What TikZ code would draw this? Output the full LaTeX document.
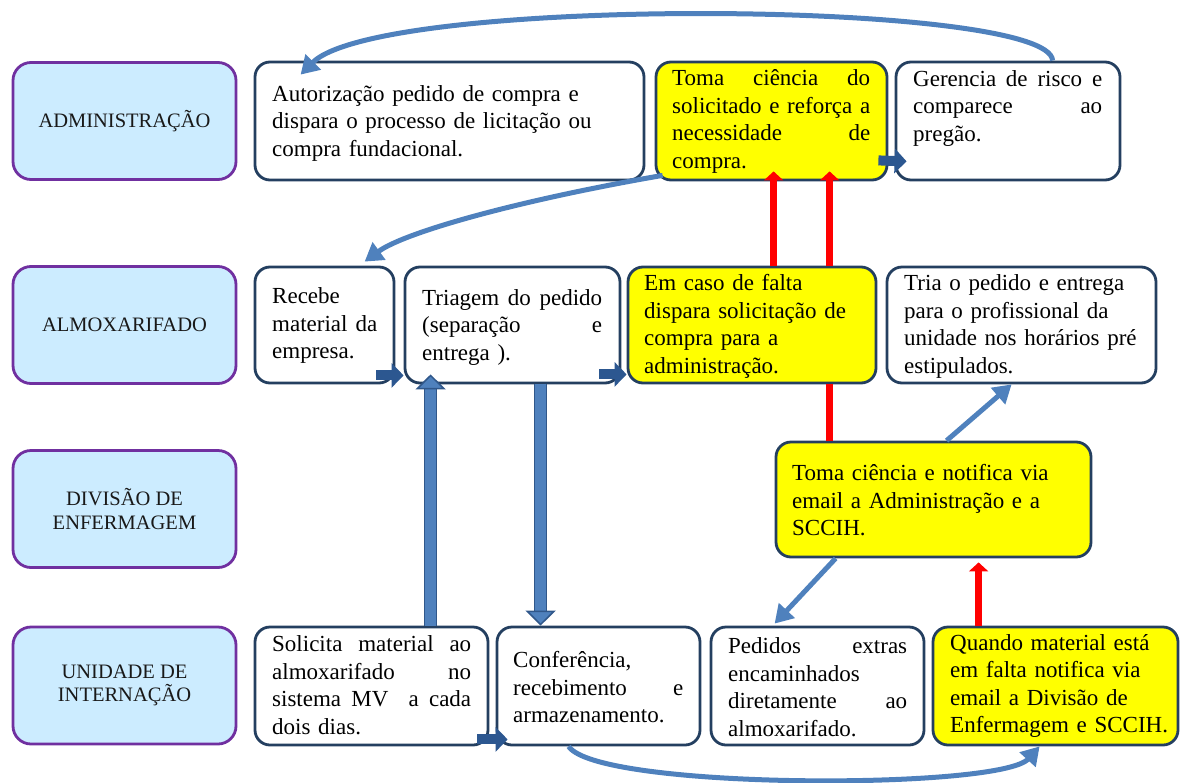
\documentclass[tikz,border=0pt]{standalone}
\usepackage{fontspec}
\setmainfont{Liberation Serif}
\usetikzlibrary{arrows.meta,calc}
\definecolor{lanefill}{HTML}{CCECFF}
\definecolor{lanedraw}{HTML}{7030A0}
\definecolor{boxdraw}{HTML}{243F60}
\definecolor{boxyellow}{HTML}{FFFF00}
\definecolor{arrblue}{HTML}{4F81BD}
\definecolor{blockblue}{HTML}{2C5790}
\definecolor{vertblue}{HTML}{4F81BD}
\definecolor{vertedge}{HTML}{30578A}
\definecolor{redc}{HTML}{FF0000}
\newcommand\jl[2]{\leavevmode\hbox to #1{#2}}
\newcommand\myBody{\fontsize{23}{27.5}\selectfont}
\newcommand\myLane{\fontsize{20.5}{23.5}\selectfont}
\begin{document}
\begin{tikzpicture}[x=1pt,y=-1pt,
  lane/.style={draw=lanedraw, fill=lanefill, line width=2.8pt, rounded corners=18pt,
    align=center, font=\myLane, text=black!90, minimum width=223pt, minimum height=117pt},
  tbox/.style={draw=boxdraw, fill=white, line width=2.8pt, rounded corners=15pt, inner sep=0pt},
  ybox/.style={tbox, fill=boxyellow},
  txt/.style={inner sep=0pt, align=left, font=\myBody, anchor=west},
  curvearr/.style={draw=arrblue, line width=5pt, -{Triangle[length=18pt,width=21pt]}},
  blockarr/.style={draw=blockblue, line width=10pt, -{Triangle[length=12pt,width=24pt]}},
  vertarr/.style={draw=vertblue, line width=11pt,
    -{Triangle[length=15pt,width=30pt,fill=vertblue,color=vertedge,line width=1.5pt]}},
  vertout/.style={draw=vertedge, line width=13.5pt},
  redarr/.style={draw=redc, line width=7pt, -{Triangle[length=9pt,width=19pt]}},
  redline/.style={draw=redc, line width=7pt}
]
\useasboundingbox (0,0) rectangle (1181,782);

% lanes
\node[lane] (l1) at (124.5,121) {ADMINISTRAÇÃO};
\node[lane] (l2) at (124.5,325) {ALMOXARIFADO};
\node[lane] (l3) at (124.5,509) {DIVISÃO DE\\ENFERMAGEM};
\node[lane] (l4) at (124.5,685.5) {UNIDADE DE\\INTERNAÇÃO};

% boxes
\node[tbox, minimum width=389pt, minimum height=118pt] (b1) at (449.5,121) {};
\node[ybox, minimum width=231pt, minimum height=118pt] (b2) at (771.5,121) {};
\node[tbox, minimum width=224pt, minimum height=118pt] (b3) at (1008,121) {};
\node[tbox, minimum width=139pt, minimum height=116pt] (b4) at (324.5,325) {};
\node[tbox, minimum width=215pt, minimum height=116pt] (b5) at (512.5,325) {};
\node[ybox, minimum width=248pt, minimum height=116pt] (b6) at (752,325) {};
\node[tbox, minimum width=269pt, minimum height=116pt] (b7) at (1021.5,325) {};
\node[ybox, minimum width=315pt, minimum height=115pt] (b8) at (933.5,499.5) {};
\node[tbox, minimum width=233pt, minimum height=118pt] (b9) at (371.5,686) {};
\node[tbox, minimum width=203pt, minimum height=118pt] (b10) at (598.5,686) {};
\node[tbox, minimum width=213pt, minimum height=118pt] (b11) at (817.5,686) {};
\node[ybox, minimum width=245pt, minimum height=118pt] (b12) at (1055.5,686) {};

% texts
\node[txt, text width=360pt] (t1) at (272,123) {Autorização pedido de compra e\\dispara o processo de licitação ou\\compra fundacional.};
\node[txt, text width=198pt] (t2) at (672,121.5) {\jl{198pt}{Toma\hfill ciência\hfill do}\\\jl{198pt}{solicitado\hfill e\hfill reforça\hfill a}\\\jl{198pt}{necessidade\hfill de}\\compra.};
\node[txt, text width=189pt] (t3) at (913,108) {\jl{189pt}{Gerencia\hfill de\hfill risco\hfill e}\\\jl{189pt}{comparece\hfill ao}\\pregão.};
\node[txt, text width=105pt] (t4) at (272,325.5) {Recebe\\\jl{105pt}{material\hfill da}\\empresa.};
\node[txt, text width=180pt] (t5) at (422,327) {\jl{180pt}{Triagem\hfill do\hfill pedido}\\\jl{180pt}{(separação\hfill e}\\entrega ).};
\node[txt, text width=250pt] (t6) at (644,326.5) {Em caso de falta\\dispara solicitação de\\compra para a\\administração.};
\node[txt, text width=260pt] (t7) at (904,326.5) {Tria o pedido e entrega\\para o profissional da\\unidade nos horários pré\\estipulados.};
\node[txt, text width=290pt] (t8) at (792,500.5) {Toma ciência e notifica via\\email a Administração e a\\SCCIH.};
\node[txt, text width=199pt] (t9) at (272,685) {\jl{199pt}{Solicita\hfill material\hfill ao}\\\jl{199pt}{almoxarifado\hfill no}\\\jl{199pt}{sistema\hfill MV\hfill\hfill a\hfill cada}\\dois dias.};
\node[txt, text width=170pt] (t10) at (513,687.5) {Conferência,\\\jl{170pt}{recebimento\hfill e}\\armazenamento.};
\node[txt, text width=179pt] (t11) at (728,687) {\jl{179pt}{Pedidos\hfill extras}\\encaminhados\\\jl{179pt}{diretamente\hfill ao}\\almoxarifado.};
\node[txt, text width=225pt] (t12) at (950,686) {Quando material está\\em falta notifica via\\email a Divisão de\\Enfermagem e SCCIH.};

% blue curved / straight arrows
\draw[curvearr] ($(b3.north west)+(158,0)$) .. controls (1050,0) and (380,-5) .. ($(b1.north west)+(47,14)$);
\draw[curvearr] ($(b2.south west)+(8,-6)$) .. controls (520,200) and (405,232) .. ($(b4.north west)+(111,-4)$);
\draw[curvearr] ($(b8.south west)+(61,0)$) -- ($(b11.north west)+(65,-2)$);
\draw[curvearr] ($(b8.north west)+(172,0)$) -- ($(b7.south west)+(126,0)$);
\draw[curvearr] ($(b10.south west)+(73,0)$) .. controls (598,790) and (1000,790) .. ($(b12.south west)+(108,0)$);

% block arrows
\draw[blockarr] ($(b2.south east)+(-10,-21)$) -- ($(b3.south west)+(12,-20)$);
\draw[blockarr] ($(b4.south east)+(-19,-9)$) -- ($(b5.south west)+(0,-9)$);
\draw[blockarr] ($(b5.south east)+(-22,-10)$) -- ($(b6.south west)+(0,-10)$);
\draw[blockarr] ($(b9.south east)+(-12,-7)$) -- ($(b10.south west)+(12,-7)$);

% vertical thick arrows (outlined)
\draw[vertout] ($(b9.north west)+(177,0)$) -- ($(b5.south west)+(27,4)$);
\draw[vertarr] ($(b9.north west)+(177,0)$) -- ($(b5.south west)+(27,-10)$);
\draw[vertout] ($(b5.south west)+(137,0)$) -- ($(b10.north west)+(45,-14)$);
\draw[vertarr] ($(b5.south west)+(137,0)$) -- ($(b10.north west)+(45,0)$);

% red arrows
\draw[redarr] ($(b6.north west)+(147,0)$) -- ($(b2.south west)+(119,-10)$);
\draw[redarr] ($(b6.north west)+(203,0)$) -- ($(b2.south west)+(175,-10)$);
\draw[redline] ($(b8.north west)+(55,0)$) -- ($(b6.south west)+(203,0)$);
\draw[redarr] ($(b12.north west)+(47,0)$) -- ($(b8.south west)+(204,4)$);
\end{tikzpicture}
\end{document}
